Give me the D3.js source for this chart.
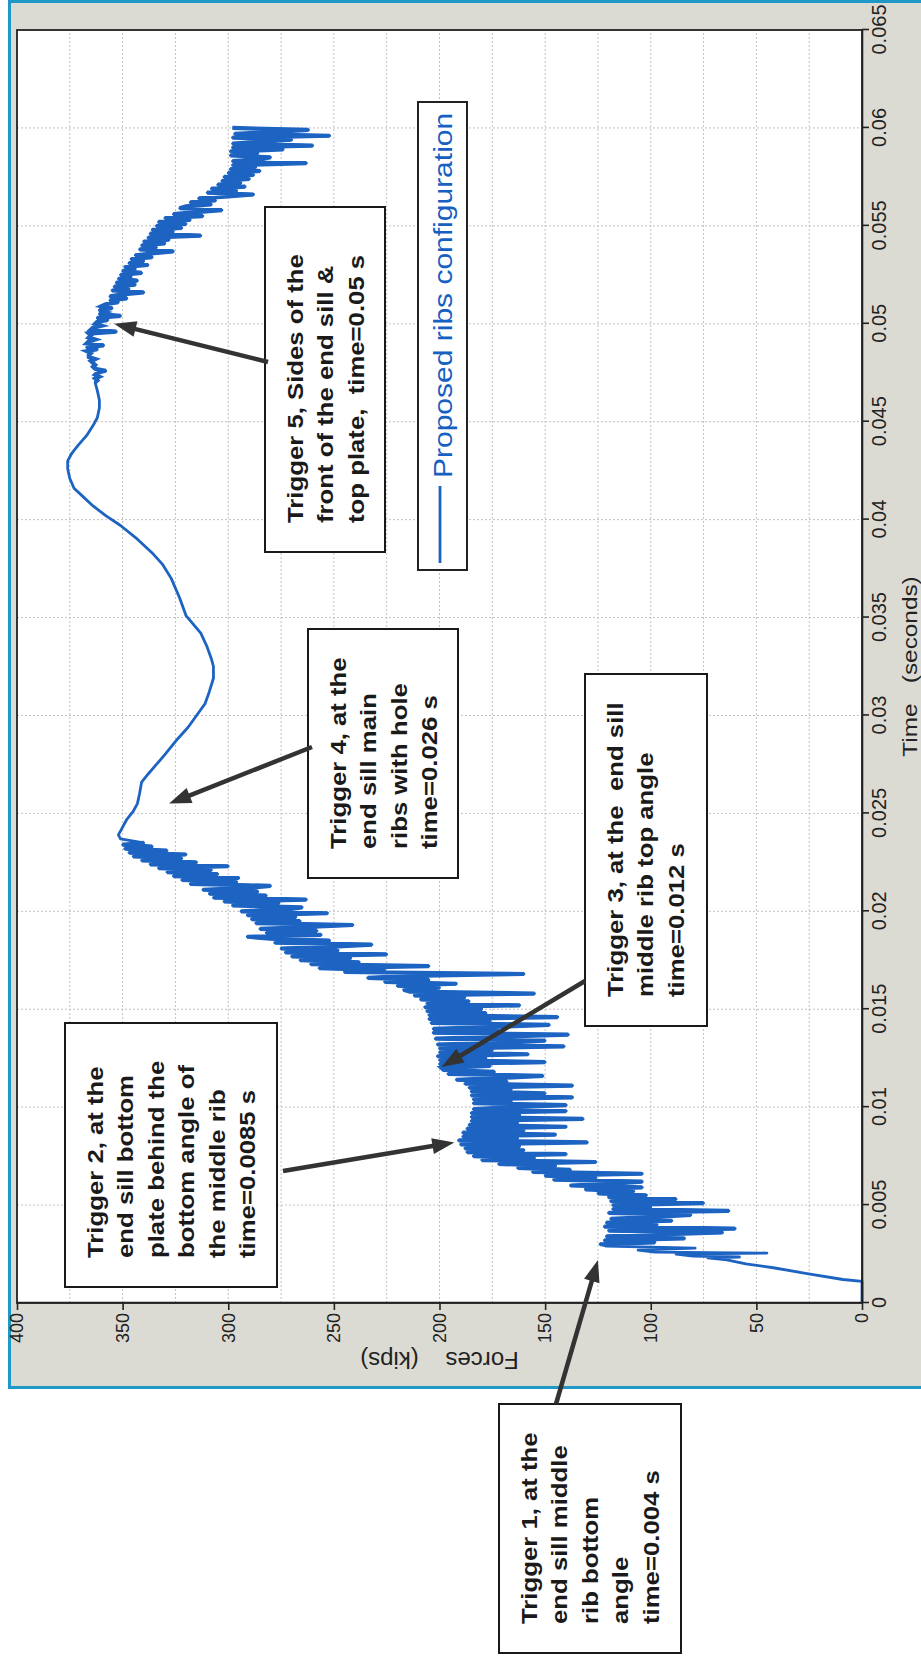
<!DOCTYPE html>
<html>
<head>
<meta charset="utf-8">
<script src="https://cdn.jsdelivr.net/npm/d3@7"></script>
<style>
body { margin: 0; background: #fff; }
svg { display: block; }
</style>
</head>
<body>
<div class="chart"></div>
<script>
// axis ticks
var timeTicks = [0, 0.005, 0.01, 0.015, 0.02, 0.025, 0.03, 0.035, 0.04, 0.045, 0.05, 0.055, 0.06, 0.065];
var forceTicks = [0, 50, 100, 150, 200, 250, 300, 350, 400];
var forceGrid = [0, 25, 50, 75, 100, 125, 150, 175, 200, 225, 250, 275, 300, 325, 350, 375, 400];

// [time s, force kips] - first rise
var riseTrace = [[0, 0], [0.0011, 0], [0.0012, 9], [0.0015, 26], [0.0018, 42], [0.0020, 55], [0.0022, 64],
	[0.0023, 73], [0.00235, 58], [0.0024, 80], [0.0025, 88], [0.00255, 45], [0.0026, 98], [0.0027, 106],
	[0.0028, 79], [0.0029, 121]];

// noisy part, one value every 0.1 ms from 0.0030 s
var noisyStart1 = 0.0030;
var sampleStep = 0.0001;
var noisyForces1 = [
	124, 98, 122, 84, 121, 96, 66, 120, 60, 122,
	97, 121, 90, 119, 98, 81, 120, 63, 118, 100,
	118, 75, 119, 88, 120, 102, 125, 108, 131, 104,
	138, 118, 104, 146, 126, 150, 104, 156, 138, 163,
	145, 172, 126, 180, 155, 184, 140, 187, 160, 188,
	162, 190, 130, 191, 163, 189, 145, 189, 160, 187,
	140, 186, 163, 185, 132, 185, 162, 185, 140, 184,
	165, 140, 184, 166, 184, 137, 185, 150, 185, 166,
	186, 137, 188, 168, 192, 170, 151, 196, 174, 198,
	199, 176, 200, 150, 200, 178, 201, 158, 200, 175,
	200, 141, 201, 172, 150, 202, 170, 139, 203, 172,
	203, 174, 148, 204, 176, 205, 144, 205, 178, 206,
	180, 207, 162, 206, 186, 209, 188, 212, 155, 214,
	217, 200, 220, 192, 226, 205, 234, 214, 160, 245,
	226, 257, 205, 261, 238, 266, 242, 270, 225, 273,
	248, 275, 250, 232, 278, 252, 280, 291, 256, 282,
	258, 285, 262, 241, 287, 266, 289, 268, 291, 253,
	294, 272, 265, 298, 276, 302, 263, 307, 282, 309,
	286, 312, 290, 280, 318, 296, 322, 295, 326, 305,
	329, 308, 333, 300, 337, 315, 341, 322, 345, 320,
	347, 329, 349, 336, 350, 340];

// smooth part
var smoothTrace = [[0.0237, 351], [0.0239, 352], [0.0243, 350], [0.0247, 348], [0.0251, 345], [0.0255, 343],
	[0.0260, 342], [0.0266, 341], [0.0270, 338], [0.0275, 334], [0.0280, 330], [0.0288, 324], [0.0294, 319],
	[0.0300, 315], [0.0306, 311], [0.0312, 309], [0.0319, 307], [0.0325, 307], [0.0329, 308], [0.0335, 310],
	[0.0342, 313], [0.0351, 320], [0.0360, 323], [0.0370, 327], [0.0377, 331], [0.0383, 336], [0.0390, 343],
	[0.0397, 351], [0.0402, 358], [0.0407, 364], [0.0412, 369], [0.0416, 373], [0.0421, 375], [0.0426, 376],
	[0.0430, 376], [0.0434, 374], [0.0438, 371], [0.0443, 367], [0.0448, 364], [0.0452, 362], [0.0457, 361],
	[0.0461, 361], [0.0466, 362]];

// second noisy part, from 0.0470 s
var noisyStart2 = 0.0470;
var noisyForces2 = [
	363, 362, 363, 361, 363, 362, 358, 363, 364, 363,
	364, 365, 363, 366, 366, 365, 367, 362, 367, 359,
	367, 366, 363, 366, 365, 366, 353, 365, 364, 360,
	363, 362, 357, 362, 351, 361, 358, 361, 355, 360,
	358, 352, 356, 348, 356, 350, 340, 355, 347, 354,
	344, 353, 343, 352, 346, 351, 341, 350, 344, 349,
	338, 347, 340, 346, 336, 344, 335, 326, 342, 334,
	341, 330, 340, 328, 338, 313, 337, 326, 336, 322,
	334, 320, 333, 318, 330, 312, 326, 315, 303, 323,
	320, 308, 318, 306, 314, 300, 288, 310, 296, 308,
	292, 305, 294, 303, 290, 302, 288, 300, 285, 299,
	287, 298, 263, 298, 284, 280, 299, 286, 299, 274,
	298, 260, 298, 283, 270, 298, 252, 297, 278, 262, 298];

var legendLabel = 'Proposed ribs configuration';

var triggerLines = [
	['Trigger 1, at the', 'end sill middle', 'rib bottom', 'angle', 'time=0.004 s'],
	['Trigger 2, at the', 'end sill bottom', 'plate behind the', 'bottom angle of', 'the middle rib', 'time=0.0085 s'],
	['Trigger 3, at the  end sill', 'middle rib top angle', 'time=0.012 s'],
	['Trigger 4, at the', 'end sill main', 'ribs with hole', 'time=0.026 s'],
	['Trigger 5, Sides of the', 'front of the end sill &', 'top plate,  time=0.05 s']
];
// where each arrow points [time, force]
var triggerPoints = [[0.0022, 125], [0.0082, 193], [0.01205, 199], [0.0255, 328], [0.0500, 354]];

// box layout in the chart frame (before rotation): x along time, y down from 400 kips
var noteBoxes = [
	{x: -350, y: 482, w: 249, h: 182, tx: -101, ty: 539},
	{x: 16, y: 48, w: 264, h: 212, tx: 132, ty: 266},
	{x: 277, y: 568, w: 352, h: 122, tx: 322, ty: 568},
	{x: 425, y: 291, w: 249, h: 150, tx: 556, ty: 295},
	{x: 751, y: 248, w: 345, h: 120, tx: 941, ty: 251}
];

var W = 1273, H = 845;
var blue = '#1c63c2';
var font = '"Liberation Sans", Arial, sans-serif';

var noisy1 = noisyForces1.map(function (f, i) { return [noisyStart1 + i * sampleStep, f]; });
var noisy2 = noisyForces2.map(function (f, i) { return [noisyStart2 + i * sampleStep, f]; });
var trace = riseTrace.concat(noisy1, smoothTrace, noisy2);

var svg = d3.select('.chart')
	.append('svg')
	.attr('width', 921)
	.attr('height', 1661);

//grey panel with blue frame
svg.append('rect')
	.attr('x', 9.5)
	.attr('y', 1.5)
	.attr('width', 940)
	.attr('height', 1386)
	.attr('fill', '#dcdbd3')
	.attr('stroke', '#1f97c7')
	.attr('stroke-width', 3);

//the whole chart is turned a quarter turn
var g = svg.append('g')
	.attr('transform', 'translate(17,1303) rotate(-90)');

var xScale = d3.scaleLinear().domain([0, 0.065]).range([0, W]);
var yScale = d3.scaleLinear().domain([0, 400]).range([H, 0]);

g.append('rect')
	.attr('width', W)
	.attr('height', H)
	.attr('fill', '#fff');

//grid
g.append('g').selectAll('line')
	.data(forceGrid)
	.enter().append('line')
	.attr('x1', 0).attr('x2', W)
	.attr('y1', function (d) { return yScale(d); })
	.attr('y2', function (d) { return yScale(d); })
	.attr('stroke', '#c2c2c2')
	.attr('stroke-dasharray', '2,2');

g.append('g').selectAll('line')
	.data(timeTicks)
	.enter().append('line')
	.attr('y1', 0).attr('y2', H)
	.attr('x1', function (d) { return xScale(d); })
	.attr('x2', function (d) { return xScale(d); })
	.attr('stroke', '#c2c2c2')
	.attr('stroke-dasharray', '2,2');

//curve
var line = d3.line()
	.x(function (d) { return xScale(d[0]); })
	.y(function (d) { return yScale(d[1]); });

g.append('path')
	.datum(trace)
	.attr('d', line)
	.attr('fill', 'none')
	.attr('stroke', blue)
	.attr('stroke-width', 2.8)
	.attr('stroke-linejoin', 'round');

//the dense vibrating parts print heavier
g.selectAll('.noisy')
	.data([noisy1, noisy2])
	.enter().append('path')
	.attr('class', 'noisy')
	.attr('d', line)
	.attr('fill', 'none')
	.attr('stroke', blue)
	.attr('stroke-width', 4.2)
	.attr('stroke-linejoin', 'miter');

//axes
var xAxis = d3.axisBottom(xScale)
	.tickValues(timeTicks)
	.tickFormat(function (d) { return String(d); })
	.tickSizeInner(7)
	.tickSizeOuter(0)
	.tickPadding(3);

var yAxis = d3.axisLeft(yScale)
	.tickValues(forceTicks)
	.tickFormat(function (d) { return String(d); })
	.tickSizeInner(7)
	.tickSizeOuter(0)
	.tickPadding(3);

var gx = g.append('g')
	.attr('transform', 'translate(0,' + H + ')')
	.call(xAxis);
gx.selectAll('text').attr('font-size', 20).attr('font-family', font).attr('fill', '#222');

var gy = g.append('g').call(yAxis);
gy.selectAll('text').attr('font-size', 18).attr('font-family', font).attr('fill', '#222');

g.selectAll('.domain, .tick line').attr('stroke', '#222').attr('stroke-width', 1.6);

g.append('rect')
	.attr('width', W)
	.attr('height', H)
	.attr('fill', 'none')
	.attr('stroke', '#222')
	.attr('stroke-width', 1.8);

//axis titles
g.append('text')
	.attr('transform', 'translate(' + (W / 2) + ',900) scale(1.16,1)')
	.attr('text-anchor', 'middle')
	.attr('font-family', font)
	.attr('font-size', 21)
	.attr('fill', '#222')
	.style('white-space', 'pre')
	.text('Time   (seconds)');

g.append('text')
	.attr('transform', 'translate(-49,' + (H / 2) + ') rotate(-90)')
	.attr('text-anchor', 'middle')
	.attr('font-family', font)
	.attr('font-size', 24)
	.attr('fill', '#222')
	.style('white-space', 'pre')
	.text('Forces    (kips)');

//legend
var legend = g.append('g');
legend.append('rect')
	.attr('x', 733).attr('y', 401)
	.attr('width', 468).attr('height', 49)
	.attr('fill', '#fff')
	.attr('stroke', '#222')
	.attr('stroke-width', 2);
legend.append('line')
	.attr('x1', 740).attr('x2', 817)
	.attr('y1', 423).attr('y2', 423)
	.attr('stroke', blue)
	.attr('stroke-width', 2.8);
legend.append('text')
	.attr('transform', 'translate(825,435) scale(1.2,1)')
	.attr('font-family', font)
	.attr('font-size', 25)
	.attr('fill', '#1560c0')
	.text(legendLabel);

//trigger notes
function drawArrow(sel, x1, y1, x2, y2) {
	var dx = x2 - x1, dy = y2 - y1;
	var len = Math.sqrt(dx * dx + dy * dy);
	var ux = dx / len, uy = dy / len;
	var hl = 22, hw = 8;
	var bx = x2 - ux * hl, by = y2 - uy * hl;
	sel.append('line')
		.attr('x1', x1).attr('y1', y1)
		.attr('x2', bx + ux * 3).attr('y2', by + uy * 3)
		.attr('stroke', '#333')
		.attr('stroke-width', 4.5);
	sel.append('path')
		.attr('d', 'M' + x2 + ',' + y2 + 'L' + (bx - uy * hw) + ',' + (by + ux * hw) + 'L' + (bx + uy * hw) + ',' + (by - ux * hw) + 'Z')
		.attr('fill', '#333');
}

triggerLines.forEach(function (lines, i) {
	var b = noteBoxes[i];
	var note = g.append('g');
	note.append('rect')
		.attr('x', b.x).attr('y', b.y)
		.attr('width', b.w).attr('height', b.h)
		.attr('fill', '#fff')
		.attr('stroke', '#1a1a1a')
		.attr('stroke-width', 2);
	var tg = note.append('g')
		.attr('transform', 'translate(' + (b.x + 29) + ',' + b.y + ') scale(1.17,1)');
	tg.selectAll('text')
		.data(lines)
		.enter().append('text')
		.attr('x', 0)
		.attr('y', function (d, j) { return 38 + j * 30.4; })
		.attr('font-family', font)
		.attr('font-weight', 'bold')
		.attr('font-size', 22)
		.attr('fill', '#1a1a1a')
		.style('white-space', 'pre')
		.text(function (d) { return d; });
	var p = triggerPoints[i];
	drawArrow(g, b.tx, b.ty, xScale(p[0]), yScale(p[1]));
});
</script>
</body>
</html>
